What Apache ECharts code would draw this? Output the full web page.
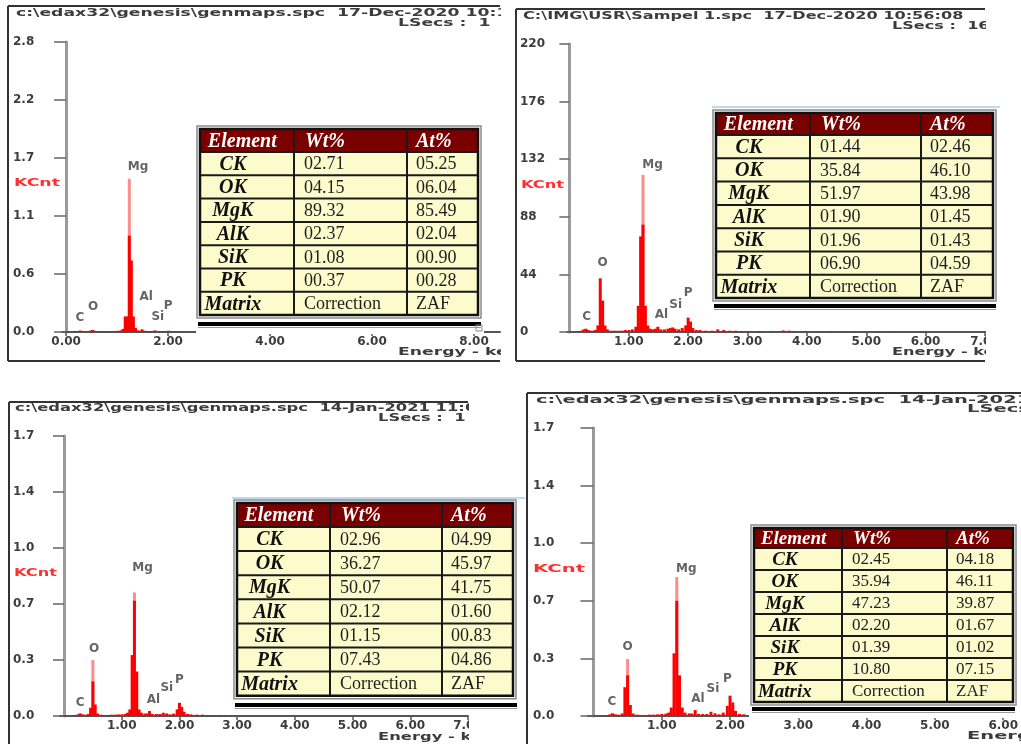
<!DOCTYPE html>
<html>
<head>
<meta charset="utf-8">
<script src="https://cdn.jsdelivr.net/npm/echarts@6/dist/echarts.min.js"></script>
<style>
  html, body { margin: 0; padding: 0; background: #fff; }
  #main { width: 1021px; height: 744px; }
</style>
</head>
<body>
<div id="main"></div>
<script>
// ---- spectra: energy (keV) and counts per panel ----
var energy1 = [0.16,0.20,0.24,0.28,0.32,0.36,0.40,0.44,0.48,0.52,0.56,0.60,0.66,0.72,0.78,0.84,0.90,0.96,1.02,1.08,1.12,1.16,1.20,1.24,1.28,1.32,1.36,1.40,1.45,1.49,1.54,1.60,1.66,1.74,1.80,1.88,1.96,2.01,2.06,2.14,2.22,2.30,2.40,2.50];
var counts1 = [0.004,0.008,0.010,0.014,0.010,0.008,0.008,0.010,0.014,0.020,0.012,0.008,0.008,0.010,0.008,0.008,0.010,0.010,0.012,0.016,0.030,0.150,0.150,0.930,0.690,0.150,0.040,0.016,0.012,0.026,0.012,0.010,0.010,0.016,0.010,0.008,0.008,0.012,0.008,0.006,0.006,0.005,0.004,0.004];
var tipEnergy1 = [1.24];
var tipCounts1 = [1.48];

var energy2 = [0.16,0.20,0.24,0.28,0.32,0.36,0.40,0.44,0.48,0.52,0.56,0.60,0.64,0.70,0.76,0.82,0.88,0.94,1.00,1.06,1.12,1.16,1.20,1.24,1.28,1.32,1.36,1.40,1.45,1.49,1.54,1.60,1.66,1.70,1.74,1.78,1.84,1.90,1.96,2.00,2.04,2.08,2.14,2.20,2.30,2.40,2.50,2.60,2.70,2.80,2.90,3.00,3.20,3.40,3.60,3.70,3.80,4.00,4.20,4.40,4.60,4.80,5.00,5.20,5.40,5.60,5.80,6.00,6.20,6.40,6.60,6.80,7.00];
var counts2 = [0.5,1,2,2.5,1.5,1,1,1.5,5,41,24,5,2,1,1,1,1,1.5,1.5,2,4,20,73,82,20,5,2.5,2,2.5,4,2,2,2.5,3,3.5,2.5,2,3,5,11,8,3,1.5,1.5,1,1,2,1.5,1,1,0.8,0.8,0.8,0.8,1.2,1,0.8,0.7,0.7,0.7,0.6,0.6,0.6,0.6,0.6,0.5,0.5,0.5,0.5,0.5,0.5,0.5,0.5];
var tipEnergy2 = [1.24];
var tipCounts2 = [120];

var energy3 = [0.16,0.20,0.24,0.28,0.32,0.36,0.42,0.46,0.50,0.54,0.58,0.64,0.70,0.76,0.82,0.88,0.94,1.00,1.06,1.10,1.14,1.18,1.22,1.26,1.30,1.34,1.40,1.44,1.48,1.53,1.60,1.66,1.72,1.78,1.84,1.90,1.96,2.00,2.04,2.08,2.14,2.20,2.30,2.40,2.50,2.60,2.70,2.80,2.90,3.00];
var counts3 = [0.004,0.006,0.010,0.016,0.010,0.008,0.012,0.05,0.21,0.07,0.015,0.008,0.006,0.006,0.008,0.008,0.010,0.010,0.012,0.020,0.040,0.370,0.700,0.270,0.040,0.020,0.015,0.015,0.030,0.012,0.012,0.012,0.020,0.016,0.010,0.015,0.040,0.080,0.055,0.025,0.012,0.010,0.008,0.008,0.006,0.006,0.006,0.005,0.005,0.005];
var tipEnergy3 = [0.50, 1.22];
var tipCounts3 = [0.34, 0.75];

var energy4 = [0.16,0.20,0.24,0.28,0.32,0.36,0.42,0.46,0.50,0.54,0.58,0.64,0.70,0.76,0.82,0.88,0.94,1.00,1.06,1.10,1.14,1.18,1.22,1.26,1.30,1.34,1.40,1.44,1.49,1.54,1.60,1.66,1.72,1.78,1.84,1.90,1.96,2.00,2.04,2.08,2.14,2.20,2.30,2.40];
var counts4 = [0.004,0.006,0.010,0.016,0.010,0.008,0.015,0.17,0.24,0.065,0.015,0.008,0.006,0.006,0.008,0.008,0.010,0.012,0.014,0.020,0.050,0.370,0.680,0.240,0.050,0.020,0.015,0.015,0.035,0.012,0.012,0.012,0.025,0.016,0.010,0.020,0.060,0.120,0.080,0.030,0.012,0.010,0.008,0.006];
var tipEnergy4 = [0.50, 1.22];
var tipCounts4 = [0.336, 0.82];

// peak labels (energy, height where the label sits)
var elementNames = ['C', 'O', 'Mg', 'Al', 'Si', 'P'];
var labelEnergy1 = [0.27, 0.53, 1.41, 1.57, 1.80, 2.00];
var labelHeight1 = [0.135, 0.24, 1.59, 0.34, 0.145, 0.25];
var labelEnergy2 = [0.29, 0.56, 1.40, 1.55, 1.79, 2.00];
var labelHeight2 = [11.5, 53, 128, 13, 21, 30];
var labelEnergy3 = [0.28, 0.52, 1.36, 1.55, 1.78, 2.00];
var labelHeight3 = [0.079, 0.41, 0.90, 0.10, 0.17, 0.22];
var labelEnergy4 = [0.27, 0.50, 1.36, 1.53, 1.75, 1.96];
var labelHeight4 = [0.083, 0.41, 0.87, 0.10, 0.16, 0.22];

// axes
var yMax = [2.8, 220, 1.7, 1.7];
var xTicks1 = [0, 2, 4, 6, 8];
var xTicks2 = [1, 2, 3, 4, 5, 6, 7];
var xTicks3 = [1, 2, 3, 4, 5, 6, 7];
var xTicks4 = [1, 2, 3, 4, 5, 6];

// header texts
var fileNames = ['c:\\edax32\\genesis\\genmaps.spc', 'C:\\IMG\\USR\\Sampel 1.spc', 'c:\\edax32\\genesis\\genmaps.spc', 'c:\\edax32\\genesis\\genmaps.spc'];
var stamps = ['17-Dec-2020 10:19', '17-Dec-2020 10:56:08', '14-Jan-2021 11:07', '14-Jan-2021 11:07'];
var liveSecs = ['LSecs :  1', 'LSecs :  16', 'LSecs :  1', 'LSecs :  1'];

// quantification tables
var tableHead = ['Element', 'Wt%', 'At%'];
var rowNames = ['CK', 'OK', 'MgK', 'AlK', 'SiK', 'PK', 'Matrix'];
var wt1 = ['02.71', '04.15', '89.32', '02.37', '01.08', '00.37', 'Correction'];
var at1 = ['05.25', '06.04', '85.49', '02.04', '00.90', '00.28', 'ZAF'];
var wt2 = ['01.44', '35.84', '51.97', '01.90', '01.96', '06.90', 'Correction'];
var at2 = ['02.46', '46.10', '43.98', '01.45', '01.43', '04.59', 'ZAF'];
var wt3 = ['02.96', '36.27', '50.07', '02.12', '01.15', '07.43', 'Correction'];
var at3 = ['04.99', '45.97', '41.75', '01.60', '00.83', '04.86', 'ZAF'];
var wt4 = ['02.45', '35.94', '47.23', '02.20', '01.39', '10.80', 'Correction'];
var at4 = ['04.18', '46.11', '39.87', '01.67', '01.02', '07.15', 'ZAF'];

// ---- layout ----
var grids = [
  { left: 62, top: 42, width: 438, height: 290, xMin: -0.08, xMax: 8.51, labMargin: 49, tickLen: 12 },
  { left: 567, top: 44, width: 418, height: 288, xMin: -0.04, xMax: 7.0, labMargin: 47, tickLen: 10 },
  { left: 60, top: 436, width: 408, height: 280, xMin: -0.07, xMax: 7.0, labMargin: 47, tickLen: 11 },
  { left: 588, top: 428, width: 433, height: 288, xMin: -0.08, xMax: 6.16, labMargin: 55, tickLen: 13 }
];
var panels = [
  { hx: 16, hy: 13, tokW: 309, lx: 398, ly: 23, kx: 14, ky: 183, kw: 46, ex: 398, ey: 352, fr: [8, 6, 500, 361] },
  { hx: 523, hy: 16, tokW: 229, lx: 892, ly: 26, kx: 521, ky: 185, kw: 43, ex: 892, ey: 352, fr: [516, 9, 985, 361] },
  { hx: 15, hy: 408, tokW: 293, lx: 378, ly: 418, kx: 14, ky: 573, kw: 43, ex: 378, ey: 737, fr: [9, 402, 468, null] },
  { hx: 536, hy: 400, tokW: 349, lx: 967, ly: 409, kx: 533, ky: 569, kw: 52, ex: 967, ey: 736, fr: [527, 393, 1021, null] }
];
var tables = [
  { left: 200, top: 129, cols: [94, 113, 71], headH: 23, rowH: 23.3, font: 18, hfont: 20, bg: [196, 124, 288, 210], bar: [198, 322, 283, 4], wt: wt1, at: at1 },
  { left: 716, top: 113, cols: [94, 111, 72], headH: 22, rowH: 23.3, font: 18, hfont: 20, bg: [709, 105, 292, 205], bar: [714, 304, 282, 4], blue: [712, 107, 1000], wt: wt2, at: at2 },
  { left: 237, top: 503, cols: [93, 112, 71], headH: 24, rowH: 24.1, font: 18, hfont: 20, bg: [231, 497, 291, 215], bar: [235, 703, 282, 4], blue: [232, 498, 525], wt: wt3, at: at3 },
  { left: 754, top: 528, cols: [88, 105, 66], headH: 20, rowH: 22, font: 17, hfont: 19, bg: [749, 522, 272, 196], bar: [752, 707, 263, 4], wt: wt4, at: at4 }
];
// white masks that cut the scanned panels at their right edges
var clips = [[501, 0, 21, 36], [501, 36, 14, 304], [501, 340, 21, 22], [986, 0, 35, 372], [469, 395, 57, 349]];

var spectra = [
  [energy1, counts1, tipEnergy1, tipCounts1, labelEnergy1, labelHeight1, xTicks1],
  [energy2, counts2, tipEnergy2, tipCounts2, labelEnergy2, labelHeight2, xTicks2],
  [energy3, counts3, tipEnergy3, tipCounts3, labelEnergy3, labelHeight3, xTicks3],
  [energy4, counts4, tipEnergy4, tipCounts4, labelEnergy4, labelHeight4, xTicks4]
];

var AXFONT = '"DejaVu Sans"';
var HEADFONT = 'bold 11px "DejaVu Sans"';
var SERIF = '"Liberation Serif", "Times New Roman", serif';

var measureCtx = document.createElement('canvas').getContext('2d');
function textWidth(s, font) { measureCtx.font = font; return measureCtx.measureText(s).width; }

function box(x, y, w, h, fill, z) {
  return { type: 'rect', silent: true, z: z, shape: { x: x, y: y, width: w, height: h }, style: { fill: fill } };
}
function frame(x, y, w, h, stroke, lw, z) {
  return { type: 'rect', silent: true, z: z, shape: { x: x, y: y, width: w, height: h }, style: { fill: 'none', stroke: stroke, lineWidth: lw } };
}
function seg(x1, y1, x2, y2, stroke, lw, z) {
  return { type: 'line', silent: true, z: z, shape: { x1: x1, y1: y1, x2: x2, y2: y2 }, style: { stroke: stroke, lineWidth: lw } };
}
function label(x, y, s, font, fill, align, z, sx) {
  return { type: 'text', silent: true, z: z, x: x, y: y, scaleX: sx || 1,
    style: { text: s, font: font, fill: fill, align: align || 'left', verticalAlign: 'middle' } };
}

var xAxes = [], yAxes = [], gridOpts = [], series = [], graphic = [];

grids.forEach(function (g, i) {
  var sp = spectra[i];
  gridOpts.push({ left: g.left, top: g.top, width: g.width, height: g.height });
  xAxes.push({
    type: 'value', gridIndex: i, min: g.xMin, max: g.xMax,
    axisLine: { show: true, lineStyle: { color: '#555', width: 2 } },
    axisTick: { show: true, length: 4, customValues: sp[6], lineStyle: { color: '#555', width: 1.5 } },
    axisLabel: { show: true, customValues: sp[6], margin: 4, fontSize: 12, fontWeight: 'bold', fontFamily: AXFONT, color: '#3d3d3d',
      formatter: function (v) { return v.toFixed(2); } },
    splitLine: { show: false }
  });
  yAxes.push({
    type: 'value', gridIndex: i, min: 0, max: yMax[i], interval: yMax[i] / 5,
    axisLine: { show: true, lineStyle: { color: '#9a9a9a', width: 3 } },
    axisTick: { show: true, length: g.tickLen, lineStyle: { color: '#666', width: 1.5 } },
    axisLabel: { show: true, align: 'left', margin: g.labMargin, fontSize: 12, fontWeight: 'bold', fontFamily: AXFONT, color: '#3d3d3d',
      formatter: function (v) { return i === 1 ? String(Math.round(v)) : v.toFixed(1); } },
    splitLine: { show: false }
  });

  var data = [];
  sp[2].forEach(function (e, k) { data.push({ value: [e, sp[3][k]], itemStyle: { color: '#ff8c8c' } }); });
  sp[0].forEach(function (e, k) { data.push([e, sp[1][k]]); });
  series.push({ type: 'bar', xAxisIndex: i, yAxisIndex: i, barWidth: 3, silent: true,
    itemStyle: { color: '#ff0000' }, data: data });

  series.push({ type: 'scatter', xAxisIndex: i, yAxisIndex: i, symbolSize: 1, silent: true,
    itemStyle: { color: 'rgba(0,0,0,0)' },
    label: { show: true, position: 'inside', formatter: '{b}', fontSize: 12, fontWeight: 'bold', fontFamily: AXFONT, color: '#3d3d3d' },
    data: elementNames.map(function (n, k) { return { name: n, value: [sp[4][k], sp[5][k]] }; }) });
});

// panel headers, borders, KCnt and energy captions
panels.forEach(function (p, i) {
  var sx = p.tokW / textWidth(fileNames[i], HEADFONT);
  graphic.push(label(p.hx, p.hy, fileNames[i] + '  ' + stamps[i], HEADFONT, '#3c3c3c', 'left', 40, sx));
  graphic.push(label(p.lx, p.ly, liveSecs[i], HEADFONT, '#3c3c3c', 'left', 40, sx));
  graphic.push(label(p.ex, p.ey, 'Energy - keV', HEADFONT, '#3c3c3c', 'left', 40, sx));
  var ksx = p.kw / textWidth('KCnt', HEADFONT);
  graphic.push(label(p.kx, p.ky, 'KCnt', HEADFONT, '#ff3030', 'left', 40, ksx));
  var f = p.fr;
  graphic.push(seg(f[0], f[1], f[0], f[3] === null ? 744 : f[3], '#333', 2, 60));
  graphic.push(seg(f[0], f[1], f[2], f[1], '#333', 2, 60));
  if (f[3] !== null) graphic.push(seg(f[0], f[3], f[2], f[3], '#333', 2, 60));
});

clips.forEach(function (c) { graphic.push(box(c[0], c[1], c[2], c[3], '#fff', 50)); });

// tables
tables.forEach(function (t) {
  var W = t.cols[0] + t.cols[1] + t.cols[2];
  var H = t.headH + rowNames.length * t.rowH;
  var b = t.bg;
  graphic.push(box(b[0], b[1], b[2], b[3], '#fff', 70));
  if (t.blue) graphic.push(seg(t.blue[0], t.blue[1], t.blue[2], t.blue[1], '#a8cdf0', 1.5, 71));
  graphic.push(frame(t.left - 3, t.top - 3, W + 6, H + 6, '#8a8a8a', 1.5, 72));
  graphic.push(box(t.left, t.top, W, t.headH, '#7a0000', 72));
  graphic.push(box(t.left, t.top + t.headH, W, H - t.headH, '#fdfbcc', 72));
  for (var r = 0; r < rowNames.length; r++) {
    var yy = t.top + t.headH + r * t.rowH;
    graphic.push(seg(t.left, yy, t.left + W, yy, '#1a1a1a', 2, 74));
  }
  var cx = [t.left, t.left + t.cols[0], t.left + t.cols[0] + t.cols[1]];
  graphic.push(seg(cx[1], t.top, cx[1], t.top + H, '#1a1a1a', 2, 74));
  graphic.push(seg(cx[2], t.top, cx[2], t.top + H, '#1a1a1a', 2, 74));
  graphic.push(frame(t.left, t.top, W, H, '#111', 2.5, 75));
  graphic.push(box(t.bar[0], t.bar[1], t.bar[2], t.bar[3], '#000', 75));
  graphic.push(seg(t.bar[0], t.bar[1] + t.bar[3] + 1.5, t.bar[0] + t.bar[2], t.bar[1] + t.bar[3] + 1.5, '#999', 1, 75));

  var hf = 'italic bold ' + t.hfont + 'px ' + SERIF;
  var nf = 'normal ' + t.font + 'px ' + SERIF;
  var hy = t.top + t.headH / 2 + 1;
  graphic.push(label(cx[0] + t.cols[0] * 0.45, hy, tableHead[0], hf, '#fff', 'center', 80));
  graphic.push(label(cx[1] + 11, hy, tableHead[1], hf, '#fff', 'left', 80));
  graphic.push(label(cx[2] + 9, hy, tableHead[2], hf, '#fff', 'left', 80));
  rowNames.forEach(function (n, r) {
    var yy = t.top + t.headH + (r + 0.5) * t.rowH + 1;
    graphic.push(label(cx[0] + t.cols[0] * 0.35, yy, n, hf, '#111', 'center', 80));
    graphic.push(label(cx[1] + 10, yy, t.wt[r], nf, '#1e1e1e', 'left', 80));
    graphic.push(label(cx[2] + 9, yy, t.at[r], nf, '#1e1e1e', 'left', 80));
  });
});
// small corner handle under the first table
graphic.push(frame(476, 325, 6, 6, '#888', 1, 81));

var chart = echarts.init(document.getElementById('main'));
chart.setOption({
  animation: false,
  backgroundColor: '#fff',
  grid: gridOpts,
  xAxis: xAxes,
  yAxis: yAxes,
  series: series,
  graphic: graphic
});
</script>
</body>
</html>
